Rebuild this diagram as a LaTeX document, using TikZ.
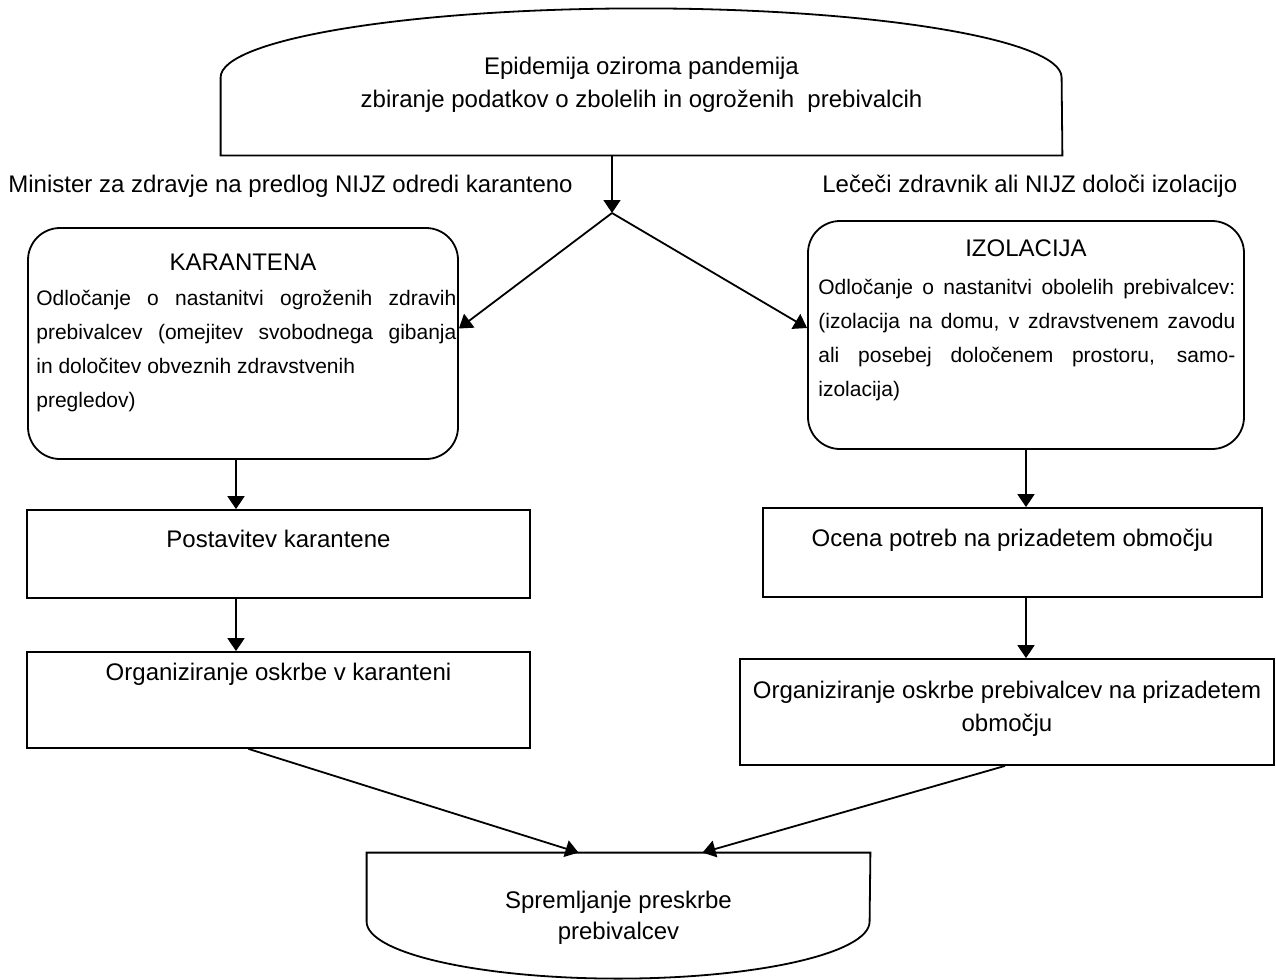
\documentclass[tikz,border=0pt]{standalone}
\usepackage{fontspec}
\setmainfont{Liberation Sans}
\usetikzlibrary{arrows.meta}
\hyphenpenalty=10000
\hbadness=10000

\begin{document}
\begin{tikzpicture}[x=0.5pt, y=-0.5pt,
		every node/.style={font=\fontsize{12}{16.5}\selectfont},
		box/.style={draw, line width=0.9pt},
		rbox/.style={box, rounded corners=16pt},
		outline/.style={draw, line width=0.9pt},
		arr/.style={-{Triangle[length=6.5pt, width=8.5pt]}, line width=0.9pt},
		body/.style={anchor=north west, inner sep=0pt, align=justify, font=\fontsize{10.5}{17}\selectfont},
		lbl/.style={anchor=west, inner sep=0pt}]
		\useasboundingbox (0,0) rectangle (1276,980);

		\draw (641.5, 84.5) 	node[align=center, minimum width=420.5pt, minimum height=70.5pt] (epi) 	{Epidemija oziroma pandemija\\zbiranje podatkov o zbolelih in ogroženih\ \ prebivalcih};
		\draw (8, 186) 		node[lbl] (minlbl) 	{Minister za zdravje na predlog NIJZ odredi karanteno};
		\draw (822, 186) 	node[lbl] (zdrlbl) 	{Lečeči zdravnik ali NIJZ določi izolacijo};
		\coordinate (split) at (612, 213);
		\coordinate (lx) at (236, 0);
		\coordinate (rx) at (1026, 0);

		\draw (243, 343.5) 	node[rbox, minimum width=215pt, minimum height=115.5pt] (karantena) {};
		\draw (243, 262) 	node (karhead) 	{KARANTENA};
		\draw (36, 290) 	node[body, text width=210pt] (karbody) 	{Odločanje o nastanitvi ogroženih zdravih\linebreak prebivalcev (omejitev svobodnega gibanja\linebreak in določitev obveznih zdravstvenih\\pregledov)};
		\draw (1026, 335) 	node[rbox, minimum width=218pt, minimum height=114pt] (izolacija) {};
		\draw (1026, 248) 	node (izohead) 	{IZOLACIJA};
		\draw (818, 279) 	node[body, text width=208.5pt] (izobody) 	{Odločanje o nastanitvi obolelih prebivalcev:\linebreak (izolacija na domu, v zdravstvenem zavodu\linebreak ali posebej določenem prostoru, samo-\linebreak izolacija)};

		\draw (278.5, 554) 	node[box, minimum width=251.5pt, minimum height=44pt] (post) {};
		\draw (278.5, 539) 	node (posttxt) 	{Postavitev karantene};
		\draw (278.5, 700) 	node[box, minimum width=251.5pt, minimum height=48pt] (orgl) {};
		\draw (278.5, 674) 	node (orgltxt) 	{Organiziranje oskrbe v karanteni};
		\draw (1012.5, 552.5) 	node[box, minimum width=249.5pt, minimum height=44.5pt] (ocena) {};
		\draw (1012.5, 540) 	node (ocenatxt) 	{Ocena potreb na prizadetem območju};
		\draw (1007, 712) 	node[box, minimum width=267pt, minimum height=53pt] (orgr) {};
		\draw (1007, 708.5) 	node[align=center] (orgrtxt) 	{Organiziranje oskrbe prebivalcev na prizadetem\\območju};

		\draw (618.5, 917.5) 	node[align=center, minimum width=251.5pt, minimum height=64.5pt, font=\fontsize{12}{15.5}\selectfont] (sprem) 	{Spremljanje preskrbe\\prebivalcev};

		% curved outlines
		\draw[outline] (epi.south west) -- ++(0,-78) arc[start angle=180, end angle=0, x radius=210.25pt, y radius=34.5pt] -- (epi.south east) -- cycle;
		\draw[outline] (sprem.north west) -- ++(0,69) arc[start angle=180, end angle=360, x radius=125.75pt, y radius=28.5pt] -- (sprem.north east) -- cycle;

		\draw[arr] (epi.south -| split) -- (split);
		\draw[arr] (split) -- ([yshift=7.5pt]karantena.east);
		\draw[arr] (split) -- ([yshift=3.5pt]izolacija.west);
		\draw[arr] (karantena.south -| lx) -- (post.north -| lx);
		\draw[arr] (post.south -| lx) -- (orgl.north -| lx);
		\draw[arr] (izolacija.south -| rx) -- (ocena.north -| rx);
		\draw[arr] (ocena.south -| rx) -- (orgr.north -| rx);
		\draw[arr] ([xshift=-15pt]orgl.south) -- ([xshift=-20pt]sprem.north);
		\draw[arr] ([xshift=-1pt]orgr.south) -- ([xshift=42pt]sprem.north);
	\end{tikzpicture}
\end{document}
